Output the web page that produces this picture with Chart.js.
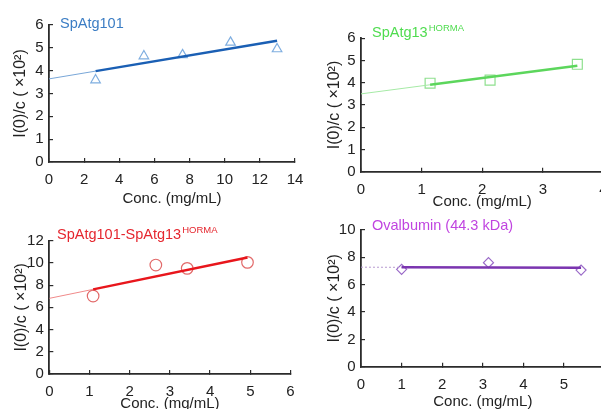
<!DOCTYPE html>
<html>
<head>
<meta charset="utf-8">
<script src="https://cdn.jsdelivr.net/npm/chart.js@4.4.1/dist/chart.umd.min.js"></script>
<style>
  html, body { margin: 0; padding: 0; background: #fff; overflow: hidden; width: 601px; height: 409px; }
  canvas { position: absolute; }
</style>
</head>
<body>
<canvas id="c1" width="320" height="215" style="left:0px;top:0px"></canvas>
<canvas id="c2" width="330" height="215" style="left:300px;top:0px"></canvas>
<canvas id="c3" width="320" height="215" style="left:0px;top:210px"></canvas>
<canvas id="c4" width="330" height="215" style="left:300px;top:210px"></canvas>
<script>
// SpAtg101
var atg101X = [2.65, 5.4, 7.6, 10.33, 12.98];
var atg101Y = [3.59, 4.64, 4.69, 5.24, 4.95];
var atg101FitX = [0, 2.65, 12.98];
var atg101FitY = [3.64, 3.98, 5.31];
var atg101XTicks = [0, 2, 4, 6, 8, 10, 12, 14];
var atg101YTicks = [0, 1, 2, 3, 4, 5, 6];

// SpAtg13 HORMA
var hormaX = [1.14, 2.13, 3.57];
var hormaY = [3.98, 4.12, 4.83];
var hormaFitX = [0, 1.14, 3.57];
var hormaFitY = [3.5, 3.91, 4.77];
var hormaXTicks = [0, 1, 2, 3, 4];
var hormaYTicks = [0, 1, 2, 3, 4, 5, 6];

// SpAtg101-SpAtg13 HORMA
var complexX = [1.09, 2.65, 3.43, 4.93];
var complexY = [7.02, 9.81, 9.51, 10.05];
var complexFitX = [0, 1.09, 4.93];
var complexFitY = [6.81, 7.62, 10.48];
var complexXTicks = [0, 1, 2, 3, 4, 5, 6];
var complexYTicks = [0, 2, 4, 6, 8, 10, 12];

// Ovalbumin
var ovaX = [1.0, 3.14, 5.42];
var ovaY = [7.12, 7.61, 7.07];
var ovaFitX = [0, 1.0, 5.42];
var ovaFitY = [7.28, 7.27, 7.24];
var ovaXTicks = [0, 1, 2, 3, 4, 5, 6];
var ovaYTicks = [0, 2, 4, 6, 8, 10];

var xTitle = "Conc. (mg/mL)";
var yTitle = "I(0)/c ( \u00d710\u00b2)";
var FONT = "'Liberation Sans', Arial, sans-serif";
var AXIS = "#2b2b2b";
var TICK_SIZE = 15, XT_SIZE = 15, YT_SIZE = 16;

function pts(xs, ys) {
  return xs.map(function (x, i) { return { x: x, y: ys[i] }; });
}

var titlePlugin = {
  id: "ptitle",
  afterDraw: function (chart, args, o) {
    var ctx = chart.ctx;
    ctx.save();
    ctx.font = "14.5px " + FONT;
    ctx.fillStyle = o.color;
    ctx.textBaseline = "middle";
    ctx.textAlign = "left";
    ctx.fillText(o.text, o.x, o.y);
    if (o.sup) {
      var w = ctx.measureText(o.text).width;
      ctx.font = "9.5px " + FONT;
      ctx.fillText(o.sup, o.x + w + 1, o.y - 5);
    }
    ctx.restore();
  },
};

function panel(id, box, d) {
  var xh = box.h - (box.B - box.top);
  var yw = box.L - box.left;
  new Chart(document.getElementById(id), {
    type: "scatter",
    data: {
      datasets: [
        {
          data: pts(d.fitX.slice(1), d.fitY.slice(1)),
          showLine: true,
          borderColor: d.thick,
          borderWidth: 2.5,
          pointRadius: 0,
        },
        {
          data: pts(d.fitX.slice(0, 2), d.fitY.slice(0, 2)),
          showLine: true,
          borderColor: d.thin,
          borderWidth: 1,
          borderDash: d.dash || [],
          pointRadius: 0,
        },
        {
          data: pts(d.x, d.y),
          pointStyle: d.marker,
          pointRadius: d.radius,
          pointBorderWidth: 1.2,
          pointBorderColor: d.markerColor,
          pointBackgroundColor: "rgba(255,255,255,0)",
        },
      ],
    },
    options: {
      responsive: false,
      animation: false,
      devicePixelRatio: 1,
      layout: {
        padding: { left: 0, top: box.T - box.top, right: box.left + box.w - box.R, bottom: 0 },
      },
      plugins: {
        legend: { display: false },
        tooltip: { enabled: false },
        ptitle: { text: d.title, sup: d.sup, color: d.titleColor, x: d.tx, y: d.ty },
      },
      scales: {
        x: {
          type: "linear",
          min: d.xTicks[0],
          max: d.xTicks[d.xTicks.length - 1],
          afterBuildTicks: function (s) { s.ticks = d.xTicks.map(function (v) { return { value: v }; }); },
          afterFit: function (s) { s.height = xh; },
          grid: { drawOnChartArea: false, drawTicks: true, tickLength: -4, color: AXIS, lineWidth: 1.2 },
          border: { color: AXIS, width: 1.8 },
          ticks: { color: "#222", font: { family: FONT, size: TICK_SIZE }, padding: 18 + 4 - TICK_SIZE * 0.6, maxRotation: 0, autoSkip: false },
          title: {
            display: true,
            text: xTitle,
            color: "#222",
            font: { family: FONT, size: XT_SIZE },
            padding: { top: 0, bottom: xh - XT_SIZE * 0.6 - box.xtw },
          },
        },
        y: {
          type: "linear",
          min: d.yTicks[0],
          max: d.yTicks[d.yTicks.length - 1],
          afterBuildTicks: function (s) { s.ticks = d.yTicks.map(function (v) { return { value: v }; }); },
          afterFit: function (s) { s.width = yw; },
          grid: { drawOnChartArea: false, drawTicks: true, tickLength: -4, color: AXIS, lineWidth: 1.2 },
          border: { color: AXIS, width: 1.8 },
          ticks: { color: "#222", font: { family: FONT, size: TICK_SIZE }, padding: 9.5, autoSkip: false },
          title: {
            display: true,
            text: yTitle,
            color: "#222",
            font: { family: FONT, size: YT_SIZE },
            padding: { top: box.ytw - YT_SIZE * 0.6, bottom: 0 },
          },
        },
      },
    },
    plugins: [titlePlugin],
  });
}

panel("c1", { left: 0, top: 0, w: 320, h: 215, L: 49, R: 295, T: 25, B: 162, xtw: 37, ytw: 20.7 }, {
  x: atg101X, y: atg101Y, fitX: atg101FitX, fitY: atg101FitY, xTicks: atg101XTicks, yTicks: atg101YTicks,
  thick: "#1a5fb4", thin: "#79a7d8", marker: "triangle", radius: 5.5, markerColor: "#7faee0",
  title: "SpAtg101", titleColor: "#3b7dc4", tx: 60, ty: 24,
});

panel("c2", { left: 300, top: 0, w: 330, h: 215, L: 361, R: 603.4, T: 38.3, B: 171.7, xtw: 30, ytw: 35 }, {
  x: hormaX, y: hormaY, fitX: hormaFitX, fitY: hormaFitY, xTicks: hormaXTicks, yTicks: hormaYTicks,
  thick: "#5cd65c", thin: "#a6eaa6", marker: "rect", radius: 7, markerColor: "#8ee08e",
  title: "SpAtg13", sup: "HORMA", titleColor: "#4fdc4f", tx: 72, ty: 33,
});

panel("c3", { left: 0, top: 210, w: 320, h: 215, L: 49.3, R: 290.5, T: 240.7, B: 374, xtw: 30, ytw: 21.7 }, {
  x: complexX, y: complexY, fitX: complexFitX, fitY: complexFitY, xTicks: complexXTicks, yTicks: complexYTicks,
  thick: "#e8161c", thin: "#f08a8a", marker: "circle", radius: 5.8, markerColor: "#e26a6a",
  title: "SpAtg101-SpAtg13", sup: "HORMA", titleColor: "#e5262e", tx: 57, ty: 25,
});

panel("c4", { left: 300, top: 210, w: 330, h: 215, L: 361, R: 604.6, T: 230, B: 366.7, xtw: 35, ytw: 34.3 }, {
  x: ovaX, y: ovaY, fitX: ovaFitX, fitY: ovaFitY, xTicks: ovaXTicks, yTicks: ovaYTicks,
  thick: "#7b35b0", thin: "#b79ad0", dash: [2, 2], marker: "rectRot", radius: 5, markerColor: "#9a6ac8",
  title: "Ovalbumin (44.3 kDa)", titleColor: "#c044e0", tx: 72, ty: 16,
});
</script>
</body>
</html>
